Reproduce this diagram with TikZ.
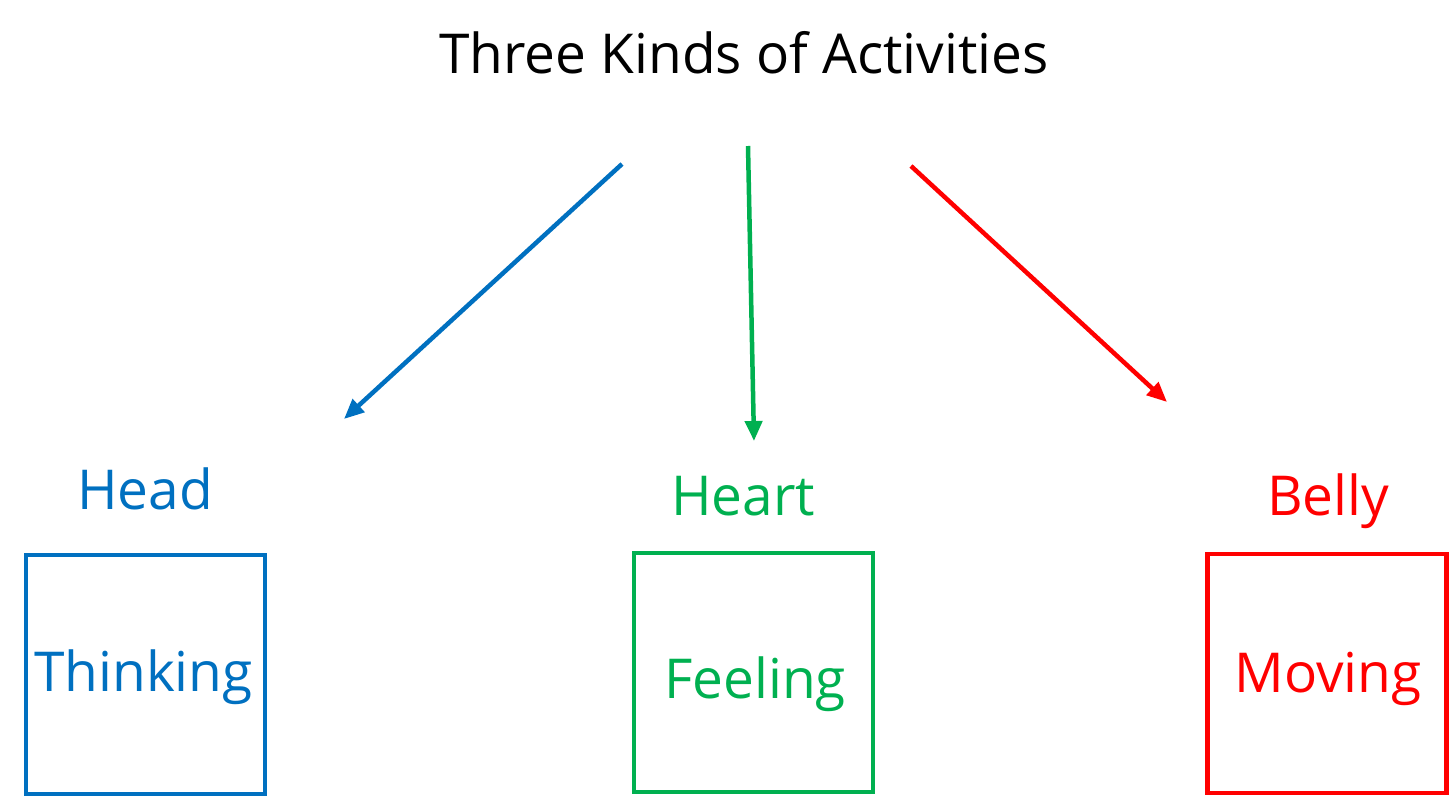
\documentclass[tikz,border=0pt]{standalone}
\usepackage{fontspec}
\setmainfont{Open Sans}
\usetikzlibrary{arrows.meta}
\definecolor{hblue}{HTML}{0070C0}
\definecolor{hgreen}{HTML}{00B050}
\definecolor{hred}{HTML}{FF0000}
\tikzset{
  lbl/.style={font=\fontsize{55}{60}\selectfont, anchor=base, inner sep=0pt},
  boxframe/.style={draw=#1, line width=4.2pt, minimum width=239pt, minimum height=239pt, inner sep=0pt},
  conn/.style={draw=#1, line width=4.5pt, -{Triangle[length=20pt,width=17pt]}},
}
\begin{document}
\begin{tikzpicture}[x=1pt,y=-1pt]
\useasboundingbox (0,0) rectangle (1456,798);
\node[lbl] (title) at (744,73) {Three Kinds of Activities};
% boxes
\node[boxframe=hblue] (b1) at (145.5,674.5) {};
\node[boxframe=hgreen] (b2) at (753.5,672.5) {};
\node[boxframe=hred] (b3) at (1327,673.5) {};
% labels
\node[lbl, text=hblue] (head) at (145,509) {Head};
\node[lbl, text=hgreen] (heart) at (743,515) {Heart};
\node[lbl, text=hred] (belly) at (1328,515) {Belly};
\node[lbl, text=hblue] (think) at (143.5,691) {Thinking};
\node[lbl, text=hgreen] (feel) at (755,698) {Feeling};
\node[lbl, text=hred] (move) at (1328,692) {Moving};
% arrow endpoints
\coordinate (s1) at (622,164);
\coordinate (e1) at (344,419);
\coordinate (s2) at (748,146);
\coordinate (e2) at (754,441);
\coordinate (s3) at (911,166);
\coordinate (e3) at (1167,402);
\draw[conn=hblue] (s1) -- (e1);
\draw[conn=hgreen] (s2) -- (e2);
\draw[conn=hred] (s3) -- (e3);
\end{tikzpicture}
\end{document}
